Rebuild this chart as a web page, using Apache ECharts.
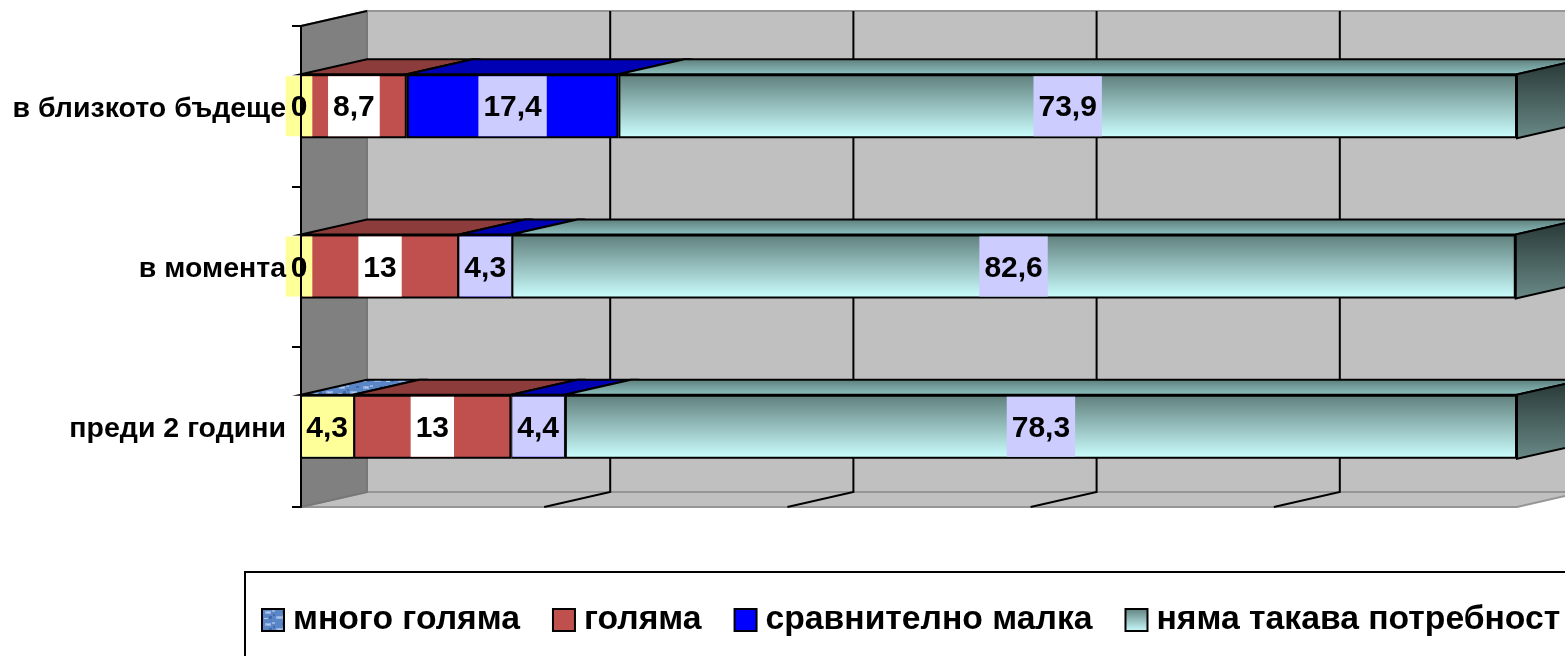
<!DOCTYPE html>
<html>
<head>
<meta charset="utf-8">
<style>
  html, body { margin: 0; padding: 0; background: #fff; overflow: hidden; }
  #main { width: 1565px; height: 656px; }
</style>
<script src="https://cdn.jsdelivr.net/npm/echarts@6/dist/echarts.min.js"></script>
</head>
<body>
<div id="main"></div>
<script>
  // bottom row first, the y axis runs upwards
  var categories = ['преди 2 години', 'в момента', 'в близкото бъдеще'];
  var seriesNames = ['много голяма', 'голяма', 'сравнително малка', 'няма такава потребност'];
  var muchLarge = [4.3, 0, 0];
  var large = [13, 13, 8.7];
  var fairlySmall = [4.4, 4.3, 17.4];
  var noNeed = [78.3, 82.6, 73.9];
  var xTicks = [20, 40, 60, 80];

  var values = [muchLarge, large, fairlySmall, noNeed];
  var depthX = 66, depthY = 15, barHeight = 64;

  function vGrad(top, bottom) {
    return {
      type: 'linear', x: 0, y: 0, x2: 0, y2: 1,
      colorStops: [{ offset: 0, color: top }, { offset: 1, color: bottom }]
    };
  }

  // the first series has a mottled blue fill
  function mottled() {
    var cv = document.createElement('canvas');
    cv.width = 24; cv.height = 12;
    var ctx = cv.getContext('2d');
    ctx.fillStyle = '#5a86c6';
    ctx.fillRect(0, 0, 24, 12);
    ctx.fillStyle = '#8fb0e0';
    ctx.fillRect(3, 2, 6, 3); ctx.fillRect(14, 7, 7, 3); ctx.fillRect(10, 1, 3, 2);
    ctx.fillStyle = '#b4cbee';
    ctx.fillRect(5, 3, 3, 1); ctx.fillRect(16, 8, 3, 1); ctx.fillRect(2, 9, 4, 1);
    ctx.fillStyle = '#3f6aac';
    ctx.fillRect(11, 5, 2, 2); ctx.fillRect(20, 2, 3, 2); ctx.fillRect(7, 7, 3, 3);
    return { image: cv, repeat: 'repeat' };
  }

  var frontColors = [mottled(), '#c0504d', '#0000ff', vGrad('#5f7f7c', '#ccffff')];
  var topColors = [mottled(), '#8c3c3a', '#0000b4', vGrad('#5c7c7a', '#8fc4c2')];
  var labelBg = ['#ffff99', '#ffffff', '#ccccff', '#ccccff'];

  // one item per visible segment: category, start, end, series
  var faceData = [];
  categories.forEach(function (c, ci) {
    var sum = 0;
    values.forEach(function (arr, si) {
      if (arr[ci] > 0) faceData.push([ci, sum, sum + arr[ci], si]);
      sum += arr[ci];
    });
  });

  function poly(points, fill) {
    return {
      type: 'polygon',
      shape: { points: points },
      style: { fill: fill, stroke: '#000', lineWidth: 2 }
    };
  }

  function renderFace(params, api) {
    var ci = api.value(0), si = api.value(3);
    var a = api.coord([api.value(1), ci]);
    var b = api.coord([api.value(2), ci]);
    var top = a[1] - barHeight / 2, bottom = a[1] + barHeight / 2;
    var children = [poly([
      [a[0], top], [a[0] + depthX, top - depthY], [b[0] + depthX, top - depthY], [b[0], top]
    ], topColors[si])];
    if (si === 3) {
      children.push(poly([
        [b[0], top], [b[0] + depthX, top - depthY], [b[0] + depthX, bottom - depthY], [b[0], bottom]
      ], vGrad('#263634', '#6a8a88')));
    }
    return { type: 'group', children: children };
  }

  function renderWalls(params, api) {
    var g = params.coordSys;
    var x0 = g.x, x1 = g.x + g.width, y0 = g.y, y1 = g.y + g.height;
    var children = [
      { type: 'rect', shape: { x: x0 + depthX, y: y0 - depthY, width: g.width, height: g.height },
        style: { fill: '#c0c0c0', stroke: '#969696', lineWidth: 2 } },
      { type: 'polygon', shape: { points: [[x0, y1], [x0 + depthX, y1 - depthY], [x1 + depthX, y1 - depthY], [x1, y1]] },
        style: { fill: '#c0c0c0', stroke: '#969696', lineWidth: 2 } },
      { type: 'polygon', shape: { points: [[x0, y0], [x0 + depthX, y0 - depthY], [x0 + depthX, y1 - depthY], [x0, y1]] },
        style: { fill: '#808080', stroke: '#777', lineWidth: 2 } },
      { type: 'line', shape: { x1: x0, y1: y0, x2: x0 + depthX, y2: y0 - depthY },
        style: { stroke: '#000', lineWidth: 2 } }
    ];
    xTicks.forEach(function (t) {
      var x = api.coord([t, 0])[0];
      children.push({ type: 'polyline', shape: { points: [[x, y1], [x + depthX, y1 - depthY], [x + depthX, y0 - depthY]] },
        style: { fill: 'none', stroke: '#000', lineWidth: 2 } });
    });
    return { type: 'group', children: children };
  }

  var series = [
    { type: 'custom', silent: true, z: 1, coordinateSystem: 'cartesian2d', renderItem: renderWalls,
      data: [[0, 0]], encode: { x: 0, y: 1 } },
    { type: 'custom', silent: true, z: 2, coordinateSystem: 'cartesian2d', renderItem: renderFace,
      data: faceData, encode: { x: [1, 2], y: 0 } }
  ];
  seriesNames.forEach(function (name, si) {
    series.push({
      name: name,
      type: 'bar',
      stack: 'total',
      z: 3,
      barWidth: barHeight,
      itemStyle: { color: frontColors[si], borderColor: '#000', borderWidth: 2 },
      label: {
        show: true,
        position: 'inside',
        padding: [0, 5],
        backgroundColor: labelBg[si],
        formatter: function (p) { return '{a|' + String(p.value).replace('.', ',') + '}'; },
        rich: {
          a: {
            color: '#000',
            fontFamily: 'Liberation Sans',
            fontWeight: 'bold',
            fontSize: 30,
            lineHeight: 60,
            padding: [4, 0, 0, 0]
          }
        }
      },
      data: values[si].map(function (v) {
        return v === 0 ? { value: v, label: { offset: [-2, 0] } } : v;
      })
    });
  });

  var myChart = echarts.init(document.getElementById('main'));
  myChart.setOption({
    animation: false,
    backgroundColor: '#fff',
    tooltip: { show: false },
    grid: { left: 301, right: 48, top: 26, bottom: 149, containLabel: false },
    xAxis: {
      type: 'value', min: 0, max: 100, interval: 20,
      axisLine: { show: false }, axisTick: { show: false },
      axisLabel: { show: false }, splitLine: { show: false }
    },
    yAxis: {
      type: 'category',
      data: categories,
      z: 10,
      axisLine: { show: true, lineStyle: { color: '#000', width: 2 } },
      axisTick: { show: true, length: 9, lineStyle: { color: '#000', width: 2 } },
      axisLabel: {
        margin: 15,
        formatter: '{a|{value}}',
        rich: {
          a: {
            color: '#000', fontFamily: 'Liberation Sans',
            fontWeight: 'bold', fontSize: 28.5, padding: [5, 0, 0, 0]
          }
        }
      }
    },
    legend: {
      data: seriesNames,
      left: 256, top: 598, width: 1700,
      orient: 'horizontal',
      selectedMode: false,
      icon: 'rect',
      itemWidth: 22, itemHeight: 22, itemGap: 32,
      textStyle: {
        color: '#000', fontFamily: 'Liberation Sans', fontWeight: 'bold', fontSize: 33.7,
        padding: [4, 0, 0, 4]
      }
    },
    graphic: [{
      type: 'rect', z: -1, left: 244, top: 571,
      shape: { width: 1500, height: 200 },
      style: { fill: '#fff', stroke: '#000', lineWidth: 2 }
    }],
    series: series
  });
</script>
</body>
</html>
